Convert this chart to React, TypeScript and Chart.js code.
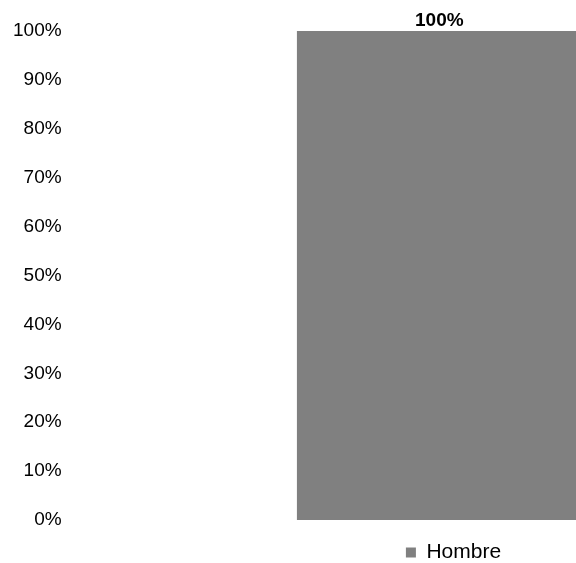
import React, { useEffect, useRef } from 'react';
import { Chart, registerables } from 'chart.js';

Chart.register(...registerables);

const categories: string[] = ['Hombre'];
const seriesLabel = 'Hombre';
const seriesValues: number[] = [100];
const yMin = 0;
const yMax = 100;
const yStep = 10;

const FONT = "'Liberation Sans', Arial, Helvetica, sans-serif";
const BAR_COLOR = '#808080';

const valueLabels = {
  id: 'valueLabels',
  afterDatasetsDraw(chart: any) {
    const ctx = chart.ctx;
    chart.data.datasets.forEach((ds: any, i: number) => {
      const meta = chart.getDatasetMeta(i);
      meta.data.forEach((el: any, j: number) => {
        ctx.save();
        ctx.font = `bold 19px ${FONT}`;
        ctx.fillStyle = '#000000';
        ctx.textAlign = 'center';
        ctx.textBaseline = 'bottom';
        ctx.fillText(`${ds.data[j]}%`, el.x, el.y - 1);
        ctx.restore();
      });
    });
  },
};

export default function App() {
  const ref = useRef<HTMLCanvasElement | null>(null);

  useEffect(() => {
    if (!ref.current) return;
    const chart = new Chart(ref.current, {
      type: 'bar',
      data: {
        labels: categories,
        datasets: [
          {
            label: seriesLabel,
            data: seriesValues,
            backgroundColor: BAR_COLOR,
            borderWidth: 0,
            barPercentage: 0.38,
            categoryPercentage: 1,
          },
        ],
      },
      options: {
        responsive: false,
        animation: false,
        devicePixelRatio: 1,
        layout: { padding: { top: 31, left: 10, right: 0, bottom: 0 } },
        plugins: {
          legend: {
            display: true,
            position: 'bottom',
            labels: {
              boxWidth: 10,
              boxHeight: 10,
              padding: 22,
              color: '#000000',
              font: { family: FONT, size: 21 },
            },
          },
          tooltip: { enabled: false },
        },
        scales: {
          x: { display: false },
          y: {
            min: yMin,
            max: yMax,
            grid: { display: false, drawTicks: false },
            border: { display: false },
            ticks: {
              stepSize: yStep,
              color: '#000000',
              padding: 3,
              font: { family: FONT, size: 19 },
              callback: (v: any) => `${v}%`,
            },
          },
          yRight: {
            type: 'linear',
            position: 'right',
            display: true,
            grid: { display: false, drawTicks: false },
            border: { display: false },
            ticks: { display: false },
            afterFit: (scale: any) => {
              scale.width = 83;
            },
          },
        },
      },
      plugins: [valueLabels],
    } as any);
    return () => chart.destroy();
  }, []);

  return (
    <div
      style={{
        position: 'absolute',
        left: 0,
        top: 0,
        width: 576,
        height: 563,
        overflow: 'hidden',
        background: '#ffffff',
      }}
    >
      <canvas ref={ref} width={897} height={573} style={{ display: 'block' }} />
    </div>
  );
}
